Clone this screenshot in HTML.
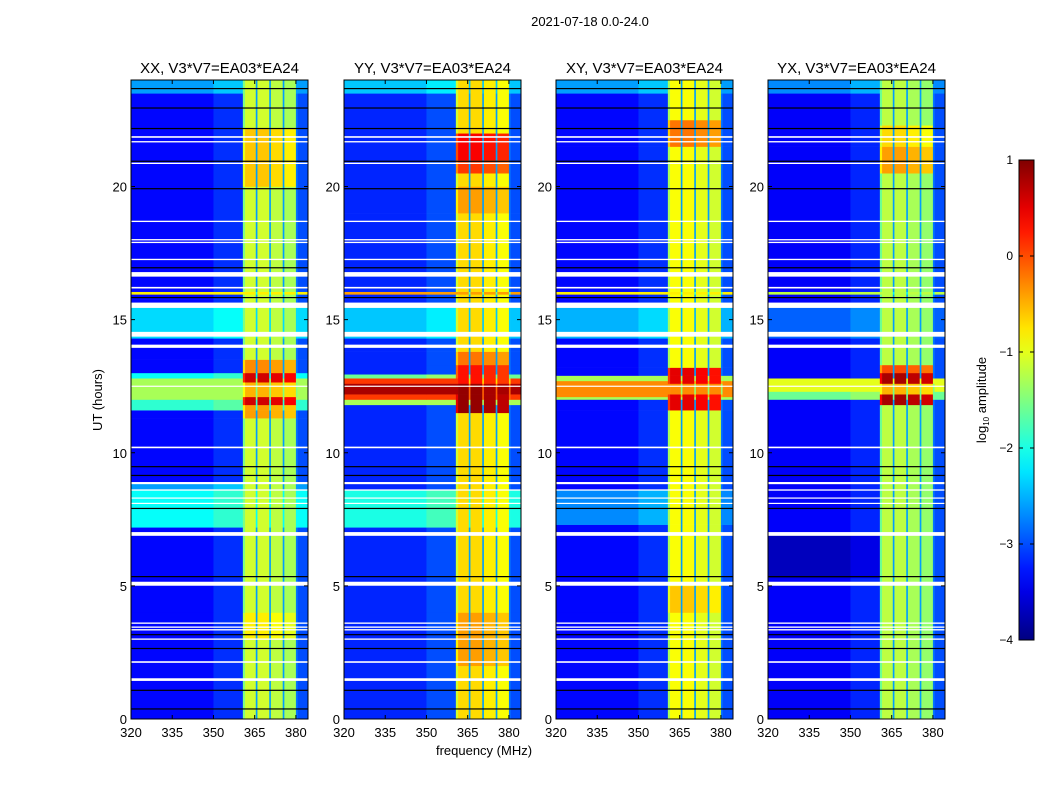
<!DOCTYPE html>
<html><head><meta charset="utf-8">
<style>
html,body{margin:0;padding:0;background:#fff;}
body{width:1050px;height:800px;overflow:hidden;font-family:"Liberation Sans","DejaVu Sans",sans-serif;}
svg text{font-family:"Liberation Sans","DejaVu Sans",sans-serif;}
</style></head>
<body>
<svg id="chart" width="1050" height="800" viewBox="0 0 1050 800" xmlns="http://www.w3.org/2000/svg">
<text x="590" y="26" font-size="13" text-anchor="middle">2021-07-18 0.0-24.0</text>
<text transform="translate(102,400) rotate(-90)" font-size="13" text-anchor="middle">UT (hours)</text>
<text x="484" y="755" font-size="13" text-anchor="middle">frequency (MHz)</text>
<g id="panels"></g>
<g id="cbar"></g>
</svg>
<script>
// ---- data ----
const panelTitles = ["XX, V3*V7=EA03*EA24","YY, V3*V7=EA03*EA24","XY, V3*V7=EA03*EA24","YX, V3*V7=EA03*EA24"];
const panelLeft = [131,344,556,768];
const xTicks = [320,335,350,365,380];
const yTicks = [0,5,10,15,20];
const cbarTicks = [1,0,-1,-2,-3,-4];
// background (off-band) log amplitude per time segment [t0,t1,level]
const bgXX = [[0,24,-3.35],[23.5,24,-2.6],[14.3,15.5,-2.3],[11.6,12.0,-1.9],[12.0,12.8,-1.3],[12.8,13.0,-2.1],[7.2,8.6,-2.1],[8.6,8.85,-2.6],[15.95,16.05,-0.8]];
const bgYY = [[0,24,-3.2],[23.5,24,-2.4],[14.3,15.5,-2.4],[11.8,12.0,-1.3],[12.0,12.2,0.1],[12.2,12.6,0.8],[12.6,12.8,0.1],[12.8,12.95,-1.6],[7.2,8.6,-2.0],[15.95,16.05,-0.4]];
const bgXY = [[0,24,-3.35],[23.5,24,-2.6],[14.3,15.5,-2.5],[12.0,12.1,-1.3],[12.1,12.7,-0.3],[12.7,12.9,-1.3],[7.3,8.6,-2.7],[15.95,16.05,-0.8]];
const bgYX = [[0,24,-3.4],[23.5,24,-2.7],[14.3,15.5,-2.9],[12.0,12.3,-1.6],[12.3,12.8,-1.0],[5.3,7.0,-3.7],[15.95,16.05,-1.2]];
// in-band level per time segment
const bandXX = [[0,24,-1.1],[20,22.2,-0.6],[11.3,11.8,-0.4],[11.8,12.1,0.6],[12.1,12.65,-0.5],[12.65,13.0,0.6],[13.0,13.5,-0.3],[3,4,-0.8]];
const bandYY = [[0,24,-0.7],[19,20,-0.4],[20.5,21,0.1],[21,22,0.4],[11.5,12.6,0.9],[12.6,13.3,0.3],[2,4,-0.4],[13.3,13.8,-0.2]];
const bandXY = [[0,24,-0.9],[21.5,22.5,-0.2],[11.6,12.2,0.5],[12.2,12.6,-0.4],[12.6,13.2,0.5],[4,5,-0.6]];
const bandYX = [[0,24,-1.2],[20.5,21.5,-0.4],[21.5,22.3,-0.7],[11.8,12.2,0.8],[12.2,12.6,-0.5],[12.6,13.0,0.8],[13.0,13.3,0.0]];
const bgSets = [bgXX,bgYY,bgXY,bgYX];
const bandSets = [bandXX,bandYY,bandXY,bandYX];
// frequency column groups [f0,f1,kind,offset]
const freqCols = [[320,350,"bg",0],[350,360.7,"bg",0.2],[360.7,361.5,"band",-0.4],[361.5,365.4,"band",0],[365.4,366.0,"gap",-2.6],[366.0,370.3,"band",0],[370.3,370.9,"gap",-2.6],[370.9,375.2,"band",-0.1],[375.2,375.8,"gap",-2.6],[375.8,380.0,"band",-0.2],[380.0,380.6,"gap",-2.8],[380.6,384.4,"right",-3.0]];
// flagged rows: white gaps [hour, thickness hours] and black lines
const whiteRows = [[21.86,0.06],[21.68,0.05],[20.87,0.05],[18.69,0.05],[18.0,0.05],[17.9,0.05],[17.26,0.05],[16.7,0.17],[16.2,0.06],[15.54,0.2],[14.45,0.18],[14.0,0.12],[12.5,0.04],[10.2,0.06],[8.86,0.08],[8.6,0.05],[8.3,0.04],[8.1,0.04],[6.95,0.14],[5.08,0.15],[3.6,0.05],[3.45,0.05],[3.35,0.05],[3.0,0.05],[2.14,0.06],[1.48,0.1]];
const blackRows = [23.7,22.97,22.2,20.97,19.94,16.97,15.85,9.5,9.17,7.93,5.37,3.19,2.67,1.1,0.4];

// ---- helpers ----
const X0=320, X1=384.4, Y0=0, Y1=24, PW=177, TOP=80, BOT=719;
function jet(v){let t=(v+4)/5;t=Math.max(0,Math.min(1,t));
 const r=Math.max(0,Math.min(1,Math.min(4*t-1.5,-4*t+4.5)));
 const g=Math.max(0,Math.min(1,Math.min(4*t-0.5,-4*t+3.5)));
 const b=Math.max(0,Math.min(1,Math.min(4*t+0.5,-4*t+2.5)));
 return `rgb(${Math.round(r*255)},${Math.round(g*255)},${Math.round(b*255)})`;}
function yScale(h){return BOT-(h-Y0)/(Y1-Y0)*(BOT-TOP);}
function xScale(left,f){return left+(f-X0)/(X1-X0)*PW;}
function lookup(segs,t){let v=segs[0][2];for(const s of segs){if(t>=s[0]&&t<s[1])v=s[2];}return v;}
const NS="http://www.w3.org/2000/svg";
function mk(tag,attrs,parent){const e=document.createElementNS(NS,tag);for(const k in attrs)e.setAttribute(k,attrs[k]);parent.appendChild(e);return e;}

const panels=document.getElementById('panels');
panelLeft.forEach((left,pi)=>{
 const g=mk('g',{},panels);
 
 
 const bg=bgSets[pi], band=bandSets[pi];
 let bps=new Set([0,24]);
 [...bg,...band].forEach(s=>{bps.add(s[0]);bps.add(s[1]);});
 bps=[...bps].sort((a,b)=>a-b);
 const cells=mk('g',{},g);
 
 
 for(let i=0;i<bps.length-1;i++){
  const t0=bps[i],t1=bps[i+1],tm=(t0+t1)/2;
  const bv=lookup(bg,tm), nv=lookup(band,tm);
  freqCols.forEach(c=>{
   let v;
   if(c[2]==="bg") v=bv+(bv<-1.5?c[3]:0);
   else if(c[2]==="band") v=Math.max(nv+c[3],bv);
   else if(c[2]==="gap") v=Math.max(c[3],Math.min(bv,nv-1));
   else v=Math.max(c[3],bv);
   const x=xScale(left,c[0]),w=xScale(left,c[1])-x;
   const y=yScale(t1),h=yScale(t0)-y;
   const r=mk('rect',{x:x.toFixed(2),y:y.toFixed(2),width:(w+0.3).toFixed(2),height:(h+0.3).toFixed(2),fill:jet(v)},cells);
   
   
  });
 }
 whiteRows.forEach(w=>{
  const y=yScale(w[0]+w[1]/2),h=Math.max(1.2,w[1]/24*(BOT-TOP));
  const r=mk('rect',{x:left,y:y.toFixed(2),width:PW,height:h.toFixed(2),fill:'#fff'},g);
  
  
 });
 blackRows.forEach(b=>{
  const r=mk('rect',{x:left,y:yScale(b).toFixed(2),width:PW,height:1.2,fill:'#000'},g);
  
  
 });
 const fr=mk('rect',{x:left,y:TOP,width:PW,height:BOT-TOP,fill:'none',stroke:'#000','stroke-width':1},g);
 
 
 const tt=mk('text',{x:left+PW/2,y:73,'font-size':15,'text-anchor':'middle'},g);
 tt.textContent=panelTitles[pi];
 
 
 xTicks.forEach(f=>{
  const x=xScale(left,f);
  mk('line',{x1:x,x2:x,y1:BOT,y2:BOT-4,stroke:'#000'},g);
  mk('line',{x1:x,x2:x,y1:TOP,y2:TOP+4,stroke:'#000'},g);
  const t=mk('text',{x:x,y:737,'font-size':13,'text-anchor':'middle'},g);
  t.textContent=f;
  
  
 });
 yTicks.forEach(h=>{
  const y=yScale(h);
  mk('line',{x1:left,x2:left+4,y1:y,y2:y,stroke:'#000'},g);
  mk('line',{x1:left+PW,x2:left+PW-4,y1:y,y2:y,stroke:'#000'},g);
  const t=mk('text',{x:left-4,y:y+5,'font-size':13,'text-anchor':'end'},g);
  t.textContent=h;
  
  
 });
});

// colorbar
const cb=document.getElementById('cbar');
const CX=1019,CW=15,CT=160,CB=640;
const defs=mk('defs',{},cb);
const grad=mk('linearGradient',{id:'jetg',x1:0,y1:1,x2:0,y2:0},defs);
for(let i=0;i<=20;i++){mk('stop',{offset:(i/20),'stop-color':jet(-4+5*i/20)},grad);}
const cr=mk('rect',{x:CX,y:CT,width:CW,height:CB-CT,fill:'url(#jetg)',stroke:'#000'},cb);


cbarTicks.forEach(v=>{
 const y=CB-(v+4)/5*(CB-CT);
 mk('line',{x1:CX,x2:CX+4,y1:y,y2:y,stroke:'#000'},cb);
 mk('line',{x1:CX+CW,x2:CX+CW-4,y1:y,y2:y,stroke:'#000'},cb);
 const t=mk('text',{x:1013,y:y+4,'font-size':12,'text-anchor':'end'},cb);
 t.textContent=v<0?'\u2212'+(-v):String(v);
 
 
});
const cl=mk('text',{transform:'translate(986,400) rotate(-90)','font-size':13,'text-anchor':'middle'},cb);
cl.innerHTML='log<tspan font-size="8" dy="3">10</tspan><tspan dy="-3"> amplitude</tspan>';


</script>
</body></html>
